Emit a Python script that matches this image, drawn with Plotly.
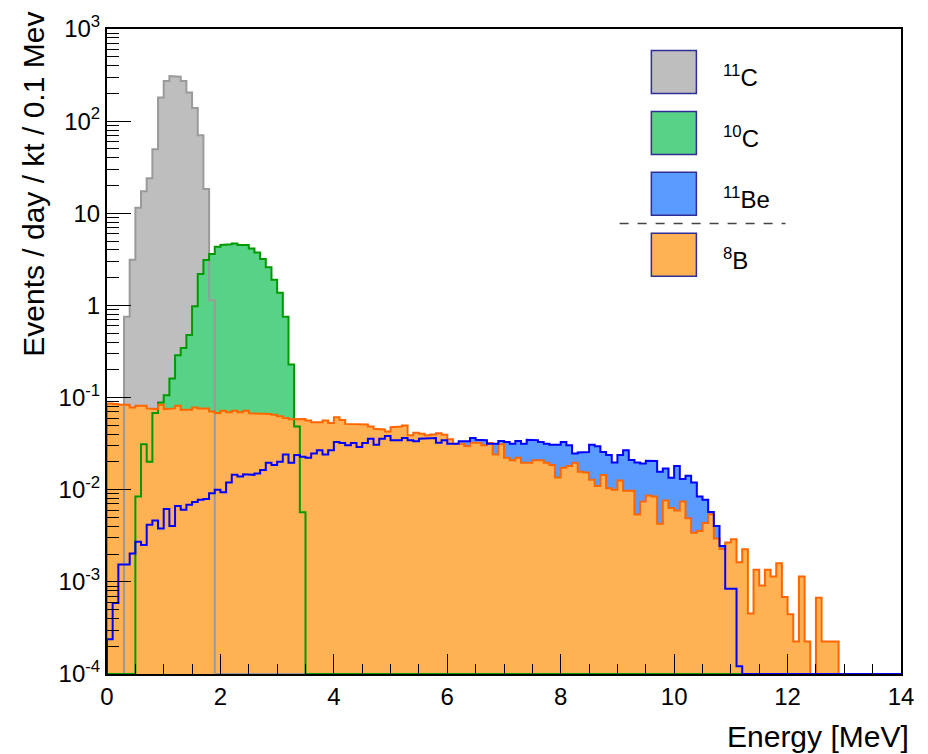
import numpy as np
import plotly.graph_objects as go

# Histogram binning: 0.1 MeV bins from 0 to 14 MeV
BIN_WIDTH = 0.1
N_BINS = 140
Y_MIN, Y_MAX = 1e-4, 1e3

# Events / day / kt / 0.1 MeV, listed from the first non-empty bin
C11_FIRST = 0.3
C11 = [0.755, 3.13, 11.5, 17.3, 24.0, 49.6, 181, 273, 309, 304, 273, 205,
       139, 70.1, 18.3, 1.14]

C10_FIRST = 0.5
C10 = [0.00845, 0.0311, 0.0201, 0.068, 0.0885, 0.106, 0.161, 0.288, 0.345,
       0.479, 0.98, 2.20, 3.11, 3.61, 4.32, 4.54, 4.62, 4.70, 4.54, 4.54,
       4.16, 3.76, 3.19, 2.60, 1.90, 1.37, 0.755, 0.228, 0.0485, 0.00569]

BE11_FIRST = 0.0
BE11 = [0.000238, 0.00059, 0.00154, 0.00154, 0.00203, 0.00273, 0.00251,
        0.00416, 0.00464, 0.00379, 0.00617, 0.00403, 0.00665, 0.00608,
        0.00688, 0.00734, 0.00779, 0.00795, 0.00917, 0.00998, 0.00938,
        0.0120, 0.0145, 0.0139, 0.0147, 0.0145, 0.0150, 0.0164, 0.0196,
        0.0185, 0.0201, 0.0241, 0.0196, 0.0238, 0.0228, 0.0222, 0.0247,
        0.0268, 0.0241, 0.0268, 0.0329, 0.0321, 0.0304, 0.0321, 0.0291,
        0.0321, 0.0358, 0.0308, 0.0358, 0.0382, 0.0344, 0.0344, 0.0364,
        0.0344, 0.0335, 0.0358, 0.0358, 0.0364, 0.0324, 0.0344, 0.0316,
        0.0316, 0.0335, 0.0335, 0.0364, 0.0349, 0.0344, 0.0316, 0.0316,
        0.0338, 0.0329, 0.0316, 0.0338, 0.0316, 0.0349, 0.0344, 0.0329,
        0.0316, 0.0308, 0.0308, 0.0329, 0.0304, 0.0247, 0.0253, 0.0257,
        0.0308, 0.0296, 0.0257, 0.0238, 0.0198, 0.0238, 0.0268, 0.0210,
        0.0198, 0.0193, 0.0206, 0.0205, 0.0157, 0.0170, 0.0135, 0.0181,
        0.0131, 0.0142, 0.0120, 0.00845, 0.00779, 0.00573, 0.00403,
        0.00245, 0.00084, 0.00084, 0.000121]

B8_FIRST = 0.0
B8 = [0.0863, 0.0849, 0.0836, 0.0836, 0.0782, 0.0816, 0.0816, 0.0763,
      0.0750, 0.0836, 0.0750, 0.0763, 0.0816, 0.0739, 0.0739, 0.0782,
      0.0763, 0.0763, 0.0708, 0.0679, 0.0721, 0.0691, 0.0721, 0.0691,
      0.0721, 0.0674, 0.0663, 0.0663, 0.0663, 0.0653, 0.0626, 0.0600,
      0.0581, 0.0586, 0.0586, 0.0563, 0.0540, 0.0540, 0.0563, 0.0530,
      0.0611, 0.0571, 0.0518, 0.0510, 0.0510, 0.0510, 0.0486, 0.0458,
      0.0451, 0.0429, 0.0477, 0.0486, 0.0498, 0.0389, 0.0414, 0.0404,
      0.0389, 0.0398, 0.0411, 0.0394, 0.0352, 0.0316, 0.0316, 0.0298,
      0.0324, 0.0324, 0.0303, 0.0321, 0.0241, 0.0311, 0.0222, 0.0209,
      0.0222, 0.0196, 0.0196, 0.0209, 0.0209, 0.0196, 0.0185, 0.0136,
      0.0173, 0.0181, 0.0196, 0.0157, 0.0154, 0.0128, 0.0110, 0.0144,
      0.0104, 0.00998, 0.0126, 0.00973, 0.00973, 0.00538, 0.00747,
      0.00866, 0.00845, 0.00426, 0.00766, 0.00633, 0.00594, 0.00747,
      0.00491, 0.00341, 0.00356, 0.00434, 0.00542, 0.00296, 0.00228,
      0.00267, 0.00290, 0.00163, 0.00226, 0.000454, 0.00135, 0.000913,
      0.00135, 0.00114, 0.00159, 0.000684, 0.000445, 0.000225, 0.00114,
      0.000225, 0.0, 0.000674, 0.000225, 0.000225, 0.000225]

LABELS = ["<sup>11</sup>C", "<sup>10</sup>C", "<sup>11</sup>Be", "<sup>8</sup>B"]
FILL_COLORS = ["#BEBEBE", "#58D286", "#5A9BFF", "#FFB254"]
LINE_COLORS = ["#9A9A9A", "#009A00", "#0000FF", "#FF6600"]

Y_TICK_VALS = [1e-4, 1e-3, 1e-2, 1e-1, 1, 10, 1e2, 1e3]
Y_TICK_TEXT = ["10<sup>-4</sup>", "10<sup>-3</sup>", "10<sup>-2</sup>",
               "10<sup>-1</sup>", "1", "10", "10<sup>2</sup>", "10<sup>3</sup>"]

FONT = "Liberation Sans, Arial, Helvetica, sans-serif"


def full_hist(first, values):
    h = np.zeros(N_BINS)
    i0 = int(round(first / BIN_WIDTH))
    h[i0:i0 + len(values)] = values
    return h


def step_outline(h):
    """Step outline of a histogram; empty bins rest on the axis floor."""
    edges = np.arange(N_BINS + 1) * BIN_WIDTH
    shown = np.where(h > 0, h, Y_MIN)
    x = np.concatenate([[edges[0]], np.repeat(edges, 2)[1:-1], [edges[-1]]])
    y = np.concatenate([[Y_MIN], np.repeat(shown, 2), [Y_MIN]])
    return x, y


hists = [full_hist(C11_FIRST, C11), full_hist(C10_FIRST, C10),
         full_hist(BE11_FIRST, BE11), full_hist(B8_FIRST, B8)]
outlines = [step_outline(h) for h in hists]

fig = go.Figure()

# filled areas first (8B last so it covers the others below its level)
for (x, y), fc in zip(outlines, FILL_COLORS):
    fig.add_trace(go.Scatter(x=x, y=y, mode="lines", fill="toself",
                             fillcolor=fc, line=dict(width=0),
                             hoverinfo="skip", showlegend=False))

# outlines on top of all fills
for idx in [0, 1, 3, 2]:
    x, y = outlines[idx]
    fig.add_trace(go.Scatter(x=x, y=y, mode="lines",
                             line=dict(color=LINE_COLORS[idx], width=2),
                             hoverinfo="skip", showlegend=False))

# legend drawn as boxes with labels
box_x0, box_x1 = 0.6856, 0.7423
row_top = [0.9666, 0.8719, 0.7779, 0.6833]
box_h = 0.0666
shapes = []
annotations = []
for top, lab, fc in zip(row_top, LABELS, FILL_COLORS):
    shapes.append(dict(type="rect", xref="paper", yref="paper",
                       x0=box_x0, x1=box_x1, y0=top - box_h, y1=top,
                       fillcolor=fc, line=dict(color="#2E2E96", width=1.5),
                       layer="above"))
    annotations.append(dict(xref="paper", yref="paper", x=0.7738,
                            y=top - box_h / 2 - 0.006, xanchor="left",
                            yanchor="middle", text=lab, showarrow=False,
                            font=dict(family=FONT, size=24, color="black")))
shapes.append(dict(type="line", xref="paper", yref="paper",
                   x0=0.6456, x1=0.8545, y0=0.6986, y1=0.6986,
                   line=dict(color="#444444", width=1.5, dash="dash"),
                   layer="above"))

annotations.append(dict(xref="paper", yref="paper", x=1, y=0,
                        xanchor="right", yanchor="middle", xshift=10,
                        yshift=-62, text="Energy [MeV]", showarrow=False,
                        font=dict(family=FONT, size=30, color="black")))
annotations.append(dict(xref="paper", yref="paper", x=-0.092, y=0.76,
                        xanchor="center", yanchor="middle", textangle=-90,
                        text="Events / day / kt / 0.1 Mev", showarrow=False,
                        font=dict(family=FONT, size=30, color="black")))

fig.update_layout(
    width=928, height=754,
    margin=dict(l=107, r=27, t=22, b=80),
    paper_bgcolor="white", plot_bgcolor="white",
    font=dict(family=FONT, size=23, color="black"),
    shapes=shapes, annotations=annotations,
    showlegend=False,
)

fig.update_xaxes(
    range=[0, 14], tick0=0, dtick=2, ticks="inside", ticklen=20,
    tickwidth=1, tickcolor="black", showline=True, linewidth=2,
    linecolor="black", mirror=True, showgrid=False, zeroline=False,
    tickfont=dict(family=FONT, size=24),
    minor=dict(dtick=0.5, ticks="inside", ticklen=10, tickwidth=1,
               tickcolor="black", showgrid=False),
)
fig.update_yaxes(
    type="log", range=[np.log10(Y_MIN), np.log10(Y_MAX)],
    tickmode="array", tickvals=Y_TICK_VALS, ticktext=Y_TICK_TEXT,
    ticks="inside", ticklen=24, tickwidth=1, tickcolor="black",
    showline=True, linewidth=2, linecolor="black", mirror=True,
    showgrid=False, zeroline=False,
    tickfont=dict(family=FONT, size=24),
    minor=dict(dtick="D1", ticks="inside", ticklen=12, tickwidth=1,
               tickcolor="black", showgrid=False),
)

fig.write_html("out.html")
